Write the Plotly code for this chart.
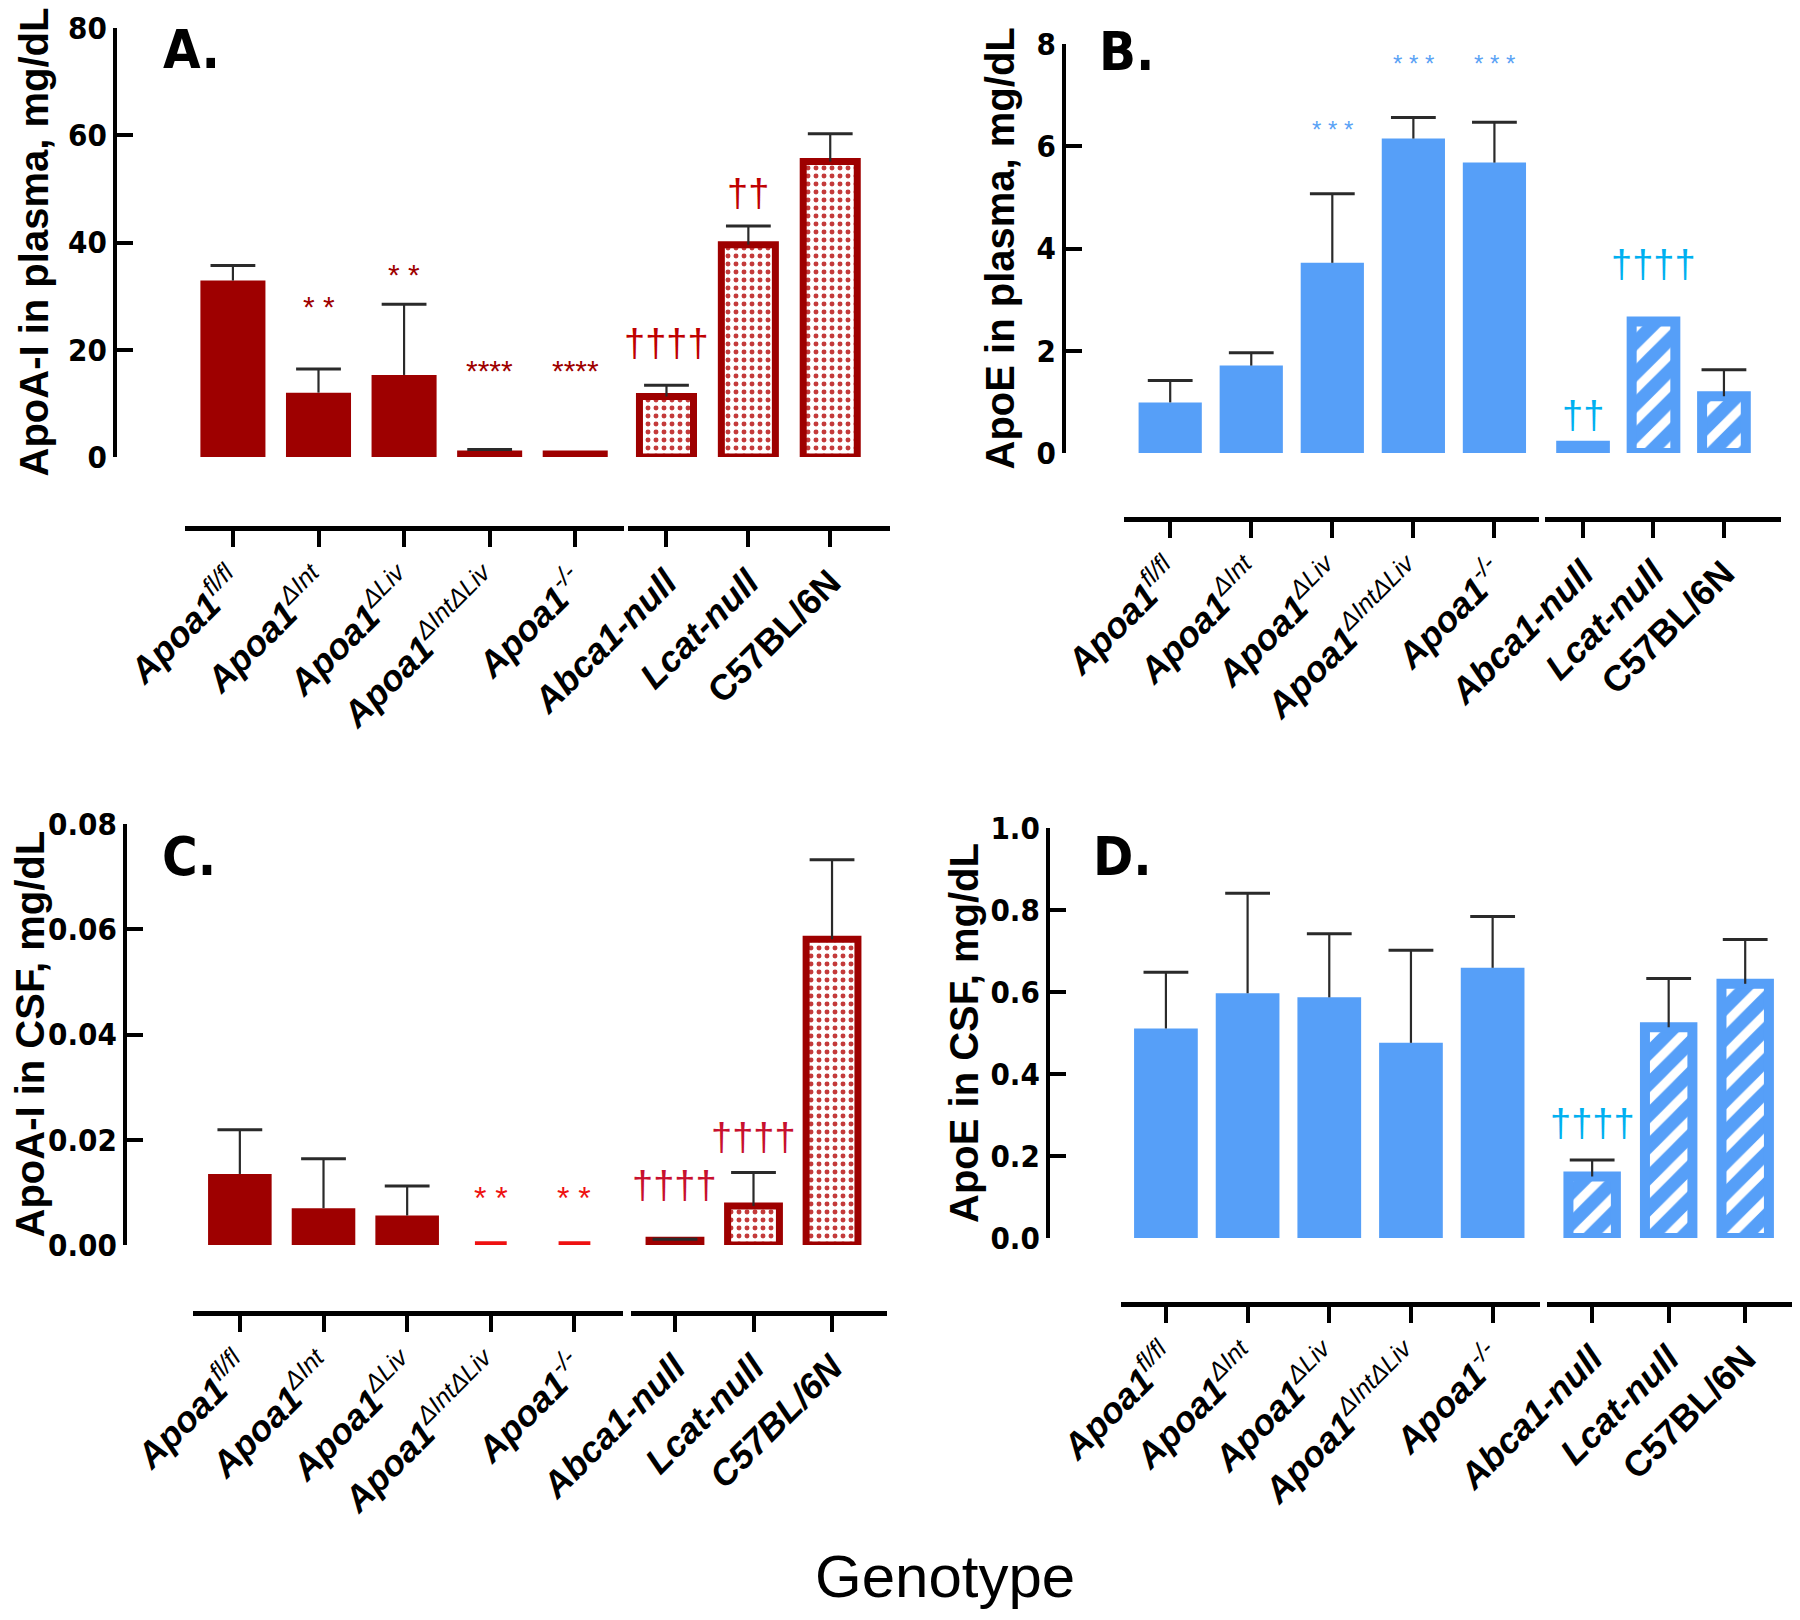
import plotly.graph_objects as go

W, H = 1800, 1620
PAGE_OFFSET = 8  # browser body margin shifts the plot by this many pixels

# ---- data ---------------------------------------------------------------
genotypes_left = ["Apoa1|fl/fl", "Apoa1|ΔInt", "Apoa1|ΔLiv", "Apoa1|ΔIntΔLiv", "Apoa1|-/-"]
genotypes_right = ["Abca1-null", "Lcat-null", "C57BL/6N"]

# bar heights (mean) and upper error, order = left five then right three
apoa1_plasma = [32.9, 12.0, 15.3, 1.2, 1.2, 11.3, 39.6, 55.1]
apoa1_plasma_err = [2.8, 4.4, 13.2, 0.2, None, 2.1, 3.5, 5.2]

apoe_plasma = [0.99, 1.71, 3.72, 6.15, 5.68, 0.14, 2.57, 1.11]
apoe_plasma_err = [0.43, 0.25, 1.35, 0.41, 0.79, None, None, 0.52]

apoa1_csf = [0.0135, 0.0070, 0.0056, 0.0007, 0.0007, 0.0009, 0.0074, 0.0581]
apoa1_csf_err = [0.0084, 0.0094, 0.0056, None, None, 0.0002, 0.0064, 0.0151]

apoe_csf = [0.511, 0.597, 0.587, 0.476, 0.659, 0.150, 0.514, 0.620]
apoe_csf_err = [0.137, 0.244, 0.155, 0.226, 0.125, 0.040, 0.119, 0.108]

# significance marks: (text, bar index 0-7, centre height)
sig_apoa1_plasma = [("* *", 1, 29.0), ("* *", 2, 35.0), ("****", 3, 17.0),
                    ("****", 4, 17.0), ("††††", 5, 21.3), ("††", 6, 49.3)]
sig_apoe_plasma = [("* * *", 2, 6.42), ("* * *", 3, 7.71), ("* * *", 4, 7.71),
                   ("††", 5, 0.75), ("††††", 6, 3.70)]
sig_apoa1_csf = [("* *", 3, 0.0098), ("* *", 4, 0.0098),
                 ("††††", 5, 0.0114), ("††††", 6, 0.0206)]
sig_apoe_csf = [("††††", 5, 0.280)]

# ---- styling --------------------------------------------------------------
DARK_RED = "#9e0000"
BRIGHT_RED = "#ee1111"
BLUE = "#569ff8"
BLACK = "#000000"
ERR_COLOR = "#2a2a2a"

TITLE_FONT = dict(family="Liberation Sans, Arial", size=40, color=BLACK, weight="bold")
YTICK_FONT = dict(family="DejaVu Sans Condensed, Liberation Sans", size=31,
                  color=BLACK, weight="bold")
XTICK_FONT = dict(family="Liberation Sans, Arial", size=36, color=BLACK,
                  weight="bold", style="italic")
LETTER_FONT = dict(family="DejaVu Sans Condensed, Liberation Sans", size=54,
                   color=BLACK, weight="bold")


def tick_label(name, upright=False):
    if "|" in name:
        base, sup = name.split("|")
        return f"{base}<sup><span style='font-weight:normal'>{sup}</span></sup>"
    if upright and name.startswith("C57"):
        return f"<span style='font-style:normal'>{name}</span>"
    return name


def px_x(p):
    return (p - PAGE_OFFSET) / W


def px_y(p):
    return 1 - (p - PAGE_OFFSET) / H


panels = [
    dict(vals=apoa1_plasma, err=apoa1_plasma_err, sig=sig_apoa1_plasma,
         title="ApoA-I in plasma, mg/dL", letter="A.", style="red", upright=True,
         yrange=[0, 80], yticks=[0, 20, 40, 60, 80], fmt="d",
         ydom=(28, 457), yx=115, x1=(185, 624), x2=(628, 890), xline=528,
         r1=[-0.56, 4.57], r2=[-0.47, 2.73], title_x=33, letter_at=(191, 50),
         sig_colors=dict(star=DARK_RED, dag="#c00000", star_size=30),
         left_colors=[DARK_RED] * 5, left_widths=[0.76] * 5),
    dict(vals=apoe_plasma, err=apoe_plasma_err, sig=sig_apoe_plasma,
         title="ApoE in plasma, mg/dL", letter="B.", style="blue", upright=True,
         yrange=[0, 8], yticks=[0, 2, 4, 6, 8], fmt="d",
         ydom=(44, 453), yx=1064, x1=(1124, 1539), x2=(1545, 1781), xline=519,
         r1=[-0.57, 4.55], r2=[-0.54, 2.81], title_x=999, letter_at=(1126, 52),
         sig_colors=dict(star="#5aa2f5", dag="#00b0f0", star_size=24),
         left_colors=[BLUE] * 5, left_widths=[0.78] * 5),
    dict(vals=apoa1_csf, err=apoa1_csf_err, sig=sig_apoa1_csf,
         title="ApoA-I in CSF, mg/dL", letter="C.", style="red", upright=False,
         yrange=[0, 0.08], yticks=[0, 0.02, 0.04, 0.06, 0.08], fmt=".2f",
         ydom=(824, 1245), yx=125, x1=(193, 623), x2=(631, 887), xline=1313,
         r1=[-0.56, 4.58], r2=[-0.56, 2.7], title_x=29, letter_at=(189, 856),
         sig_colors=dict(star=BRIGHT_RED, dag="#c8102e", star_size=32),
         left_colors=[DARK_RED, DARK_RED, DARK_RED, BRIGHT_RED, BRIGHT_RED],
         left_widths=[0.76, 0.76, 0.76, 0.38, 0.38]),
    dict(vals=apoe_csf, err=apoe_csf_err, sig=sig_apoe_csf,
         title="ApoE in CSF, mg/dL", letter="D.", style="blue", upright=True,
         yrange=[0, 1.0], yticks=[0, 0.2, 0.4, 0.6, 0.8, 1.0], fmt=".1f",
         ydom=(828, 1238), yx=1048, x1=(1121, 1540), x2=(1547, 1798), xline=1304,
         r1=[-0.55, 4.58], r2=[-0.59, 2.69], title_x=964, letter_at=(1122, 856),
         sig_colors=dict(star="#5aa2f5", dag="#00b0f0", star_size=24),
         left_colors=[BLUE] * 5, left_widths=[0.78] * 5),
]

fig = go.Figure()
layout = dict(width=W, height=H, autosize=False,
              margin=dict(l=0, r=0, t=0, b=0, pad=0, autoexpand=False),
              paper_bgcolor="white", plot_bgcolor="rgba(0,0,0,0)", showlegend=False,
              barmode="overlay")
annotations = []


def add_bars_with_errors(xs, means, errs, xa, ya, width, marker):
    # only the upper whisker: stem via error_y, cap as a separate marker
    fig.add_trace(go.Bar(
        x=xs, y=means, xaxis=xa, yaxis=ya, width=width, marker=marker,
        error_y=dict(type="data", symmetric=False, array=errs,
                     arrayminus=[0] * len(errs), color=ERR_COLOR,
                     thickness=2.2, width=0),
    ))
    cap_x = [x for x, e in zip(xs, errs) if e is not None]
    cap_y = [m + e for m, e in zip(means, errs) if e is not None]
    fig.add_trace(go.Scatter(
        x=cap_x, y=cap_y, xaxis=xa, yaxis=ya, mode="markers", hoverinfo="skip",
        marker=dict(symbol="line-ew", size=32, line=dict(color=ERR_COLOR, width=3)),
    ))


for i, p in enumerate(panels):
    xa1, xa2, ya = f"x{2 * i + 1}", f"x{2 * i + 2}", f"y{i + 1}"
    ka1 = "xaxis" if i == 0 else f"xaxis{2 * i + 1}"
    ka2 = f"xaxis{2 * i + 2}"
    kya = "yaxis" if i == 0 else f"yaxis{i + 1}"
    if i == 0:
        xa1, ya = "x", "y"

    vals, err = p["vals"], p["err"]

    # left group: solid bars
    add_bars_with_errors(list(range(5)), vals[:5], err[:5], xa1, ya, p["left_widths"],
                         dict(color=p["left_colors"], line=dict(width=0)))

    # right group: patterned bars
    if p["style"] == "red":
        marker = dict(color="white", line=dict(color=DARK_RED, width=7),
                      pattern=dict(shape=".", fgcolor="#c43a3a", bgcolor="white",
                                   size=8, solidity=0.3, fillmode="replace"))
        width = 0.66
    else:
        marker = dict(color=BLUE, line=dict(color=BLUE, width=10),
                      pattern=dict(shape="/", fgcolor="white", fgopacity=1, size=22,
                                   solidity=0.4, fillmode="overlay"))
        width = 0.62
    add_bars_with_errors(list(range(3)), vals[5:], err[5:], xa2, ya, width, marker)

    # axes (ydom is given top pixel, bottom pixel)
    y_top, y_bot = p["ydom"]
    layout[kya] = dict(
        domain=[px_y(y_bot), px_y(y_top)], range=p["yrange"], anchor="free",
        position=px_x(p["yx"]), showline=True, linewidth=4, linecolor=BLACK,
        ticks="inside", ticklen=16, tickwidth=4, tickcolor=BLACK,
        tickvals=p["yticks"], tickformat=p["fmt"], tickfont=YTICK_FONT,
        ticklabeloverflow="allow", showgrid=False, zeroline=False, automargin=False,
    )
    common_x = dict(anchor="free", position=px_y(p["xline"]), showline=True,
                    linewidth=5, linecolor=BLACK, ticks="outside", ticklen=16,
                    tickwidth=4, tickcolor=BLACK, tickangle=-45,
                    tickfont=XTICK_FONT, showgrid=False, zeroline=False,
                    automargin=False, ticklabeloverflow="allow")
    layout[ka1] = dict(domain=[px_x(p["x1"][0]), px_x(p["x1"][1])], range=p["r1"],
                       tickvals=list(range(5)),
                       ticktext=[tick_label(g) for g in genotypes_left], **common_x)
    layout[ka2] = dict(domain=[px_x(p["x2"][0]), px_x(p["x2"][1])], range=p["r2"],
                       tickvals=list(range(3)),
                       ticktext=[tick_label(g, p["upright"]) for g in genotypes_right],
                       **common_x)

    # significance marks
    sc = p["sig_colors"]
    for text, idx, yv in p["sig"]:
        is_star = "*" in text
        annotations.append(dict(
            x=idx if idx < 5 else idx - 5, xref=xa1 if idx < 5 else xa2,
            y=yv, yref=ya, text=text, showarrow=False, yanchor="middle",
            yshift=-5 if is_star else 0,
            font=dict(family="Liberation Sans, Arial", color=sc["star"] if is_star else sc["dag"],
                      size=sc["star_size"] if is_star else 38),
        ))

    # y title and panel letter
    annotations.append(dict(
        x=px_x(p["title_x"]), y=(px_y(y_bot) + px_y(y_top)) / 2, xref="paper",
        yref="paper", text=p["title"], textangle=-90, showarrow=False,
        font=TITLE_FONT, xanchor="center", yanchor="middle",
    ))
    annotations.append(dict(
        x=px_x(p["letter_at"][0]), y=px_y(p["letter_at"][1]), xref="paper",
        yref="paper", text=p["letter"], showarrow=False, font=LETTER_FONT,
        xanchor="center", yanchor="middle",
    ))

annotations.append(dict(
    x=px_x(945), y=px_y(1576), xref="paper", yref="paper", text="Genotype",
    showarrow=False, font=dict(family="Liberation Sans, Arial", size=60, color=BLACK),
    xanchor="center", yanchor="middle",
))

layout["annotations"] = annotations
fig.update_layout(**layout)
fig.write_html("out.html")
